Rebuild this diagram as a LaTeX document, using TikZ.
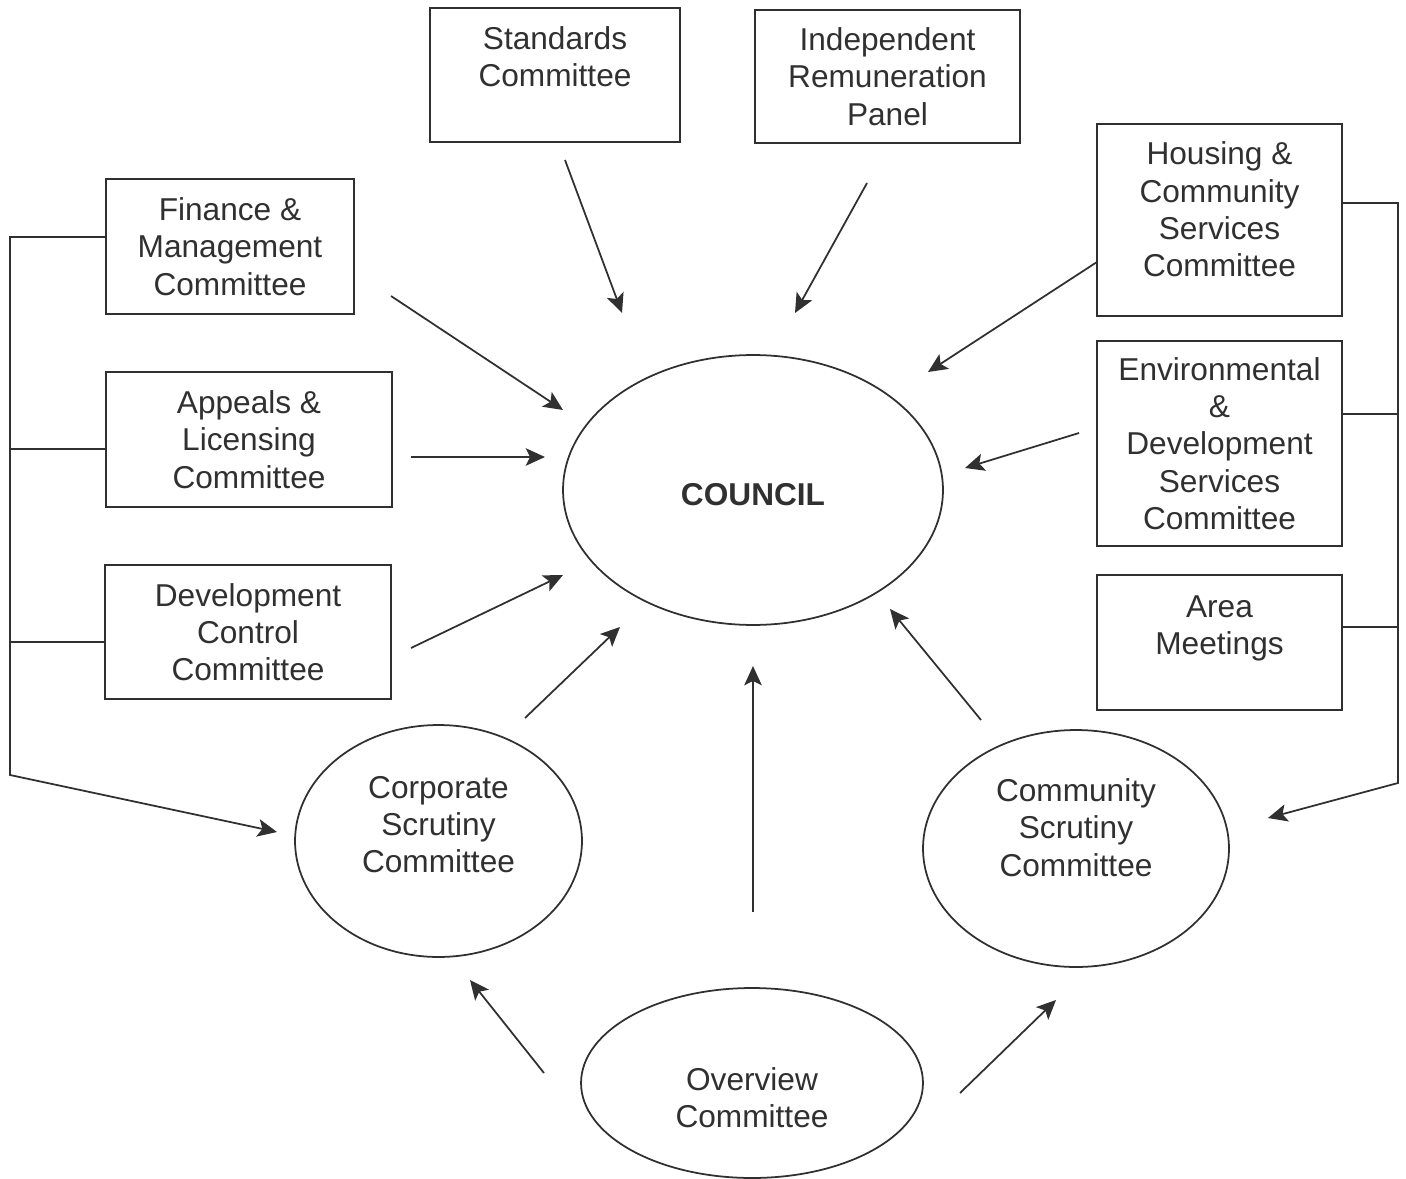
\documentclass[tikz,border=0pt]{standalone}
\usepackage{fontspec}
\setmainfont{Liberation Sans}
\usetikzlibrary{arrows.meta, positioning, shapes.geometric}
\definecolor{ink}{HTML}{303030}

\begin{document}
\begin{tikzpicture}[x={(0.02cm,0)}, y={(0,-0.02cm)},
    font=\fontsize{18}{21.2}\selectfont, text=ink,
    line/.style={draw=ink, line width=1pt},
    box/.style={line, rectangle, align=center, inner sep=0pt},
    oval/.style={line, ellipse, align=center, inner sep=0pt},
    arr/.style={draw=ink, line width=1pt, -{Stealth[length=11pt, width=10pt, inset=2.5pt]}}]
    \useasboundingbox (0,0) rectangle (1406,1179);

    % council in the middle
    \node[oval, minimum width=7.6cm, minimum height=5.4cm,
          label={[yshift=-2.8pt]center:\textbf{COUNCIL}}] (council) at (753,490) {};

    % committees round it
    \node[box, minimum width=5cm, minimum height=2.68cm,
          label={[align=center, yshift=10.5pt]center:Standards\\Committee}] (stand) at (555,75) {};
    \node[box, minimum width=5.3cm, minimum height=2.66cm] (indep) at (887.5,76.5) {Independent\\Remuneration\\Panel};
    \node[box, minimum width=4.96cm, minimum height=2.7cm] (fin) at (230,246.5) {Finance \&\\Management\\Committee};
    \node[box, minimum width=5.72cm, minimum height=2.7cm] (appeal) at (249,439.5) {Appeals \&\\Licensing\\Committee};
    \node[box, minimum width=5.72cm, minimum height=2.68cm] (devc) at (248,632) {Development\\Control\\Committee};
    \node[box, minimum width=4.9cm, minimum height=3.84cm,
          label={[align=center, yshift=6pt]center:Housing \&\\Community\\Services\\Committee}] (housing) at (1219.5,220) {};
    \node[box, minimum width=4.9cm, minimum height=4.1cm] (env) at (1219.5,443.5) {Environmental\\\&\\Development\\Services\\Committee};
    \node[box, minimum width=4.9cm, minimum height=2.7cm,
          label={[align=center, yshift=8pt]center:Area\\Meetings}] (area) at (1219.5,642.5) {};

    \node[oval, minimum width=5.74cm, minimum height=4.64cm,
          label={[align=center, yshift=9.4pt]center:Corporate\\Scrutiny\\Committee}] (corp) at (438.5,841) {};
    \node[oval, minimum width=6.12cm, minimum height=4.74cm,
          label={[align=center, yshift=11.9pt]center:Community\\Scrutiny\\Committee}] (commu) at (1076,848.5) {};
    \node[oval, minimum width=6.84cm, minimum height=3.8cm,
          label={[align=center, yshift=-8.5pt]center:Overview\\Committee}] (over) at (752,1083) {};

    % free ends of the arrows
    \coordinate (standA) at (565,160);   \coordinate (standB) at (622,313);
    \coordinate (indepA) at (867,183);   \coordinate (indepB) at (795,313);
    \coordinate (housA) at (1097,262);   \coordinate (housB) at (928,372);
    \coordinate (envA) at (1079,433);    \coordinate (envB) at (965,468);
    \coordinate (finA) at (391,296);     \coordinate (finB) at (563,410);
    \coordinate (appA) at (411,457);     \coordinate (appB) at (545,457);
    \coordinate (devA) at (411,648);     \coordinate (devB) at (563,575);
    \coordinate (corpA) at (525,718);    \coordinate (corpB) at (620,627);
    \coordinate (overA) at (753,912);    \coordinate (overB) at (753,666);
    \coordinate (comA) at (981,720);     \coordinate (comB) at (890,609);
    \coordinate (ovcA) at (544,1073);    \coordinate (ovcB) at (470,980);
    \coordinate (ovmA) at (960,1093);    \coordinate (ovmB) at (1056,1000);

    \draw[arr] (standA) -- (standB);
    \draw[arr] (indepA) -- (indepB);
    \draw[arr] (housA) -- (housB);
    \draw[arr] (envA) -- (envB);
    \draw[arr] (finA) -- (finB);
    \draw[arr] (appA) -- (appB);
    \draw[arr] (devA) -- (devB);
    \draw[arr] (corpA) -- (corpB);
    \draw[arr] (overA) -- (overB);
    \draw[arr] (comA) -- (comB);
    \draw[arr] (ovcA) -- (ovcB);
    \draw[arr] (ovmA) -- (ovmB);

    % left bracket into corporate scrutiny
    \coordinate (lb1) at (10,237);
    \coordinate (lb2) at (10,449);
    \coordinate (lb3) at (10,642);
    \coordinate (lb4) at (10,775);
    \coordinate (lbE) at (277,832);
    \draw[arr] (fin.west |- lb1) -- (lb1) -- (lb4) -- (lbE);
    \draw[line] (appeal.west |- lb2) -- (lb2);
    \draw[line] (devc.west |- lb3) -- (lb3);

    % right bracket into community scrutiny
    \coordinate (rb1) at (1398,203);
    \coordinate (rb2) at (1398,414);
    \coordinate (rb3) at (1398,627);
    \coordinate (rb4) at (1398,783);
    \coordinate (rbE) at (1268,818);
    \draw[arr] (housing.east |- rb1) -- (rb1) -- (rb4) -- (rbE);
    \draw[line] (env.east |- rb2) -- (rb2);
    \draw[line] (area.east |- rb3) -- (rb3);
\end{tikzpicture}
\end{document}
